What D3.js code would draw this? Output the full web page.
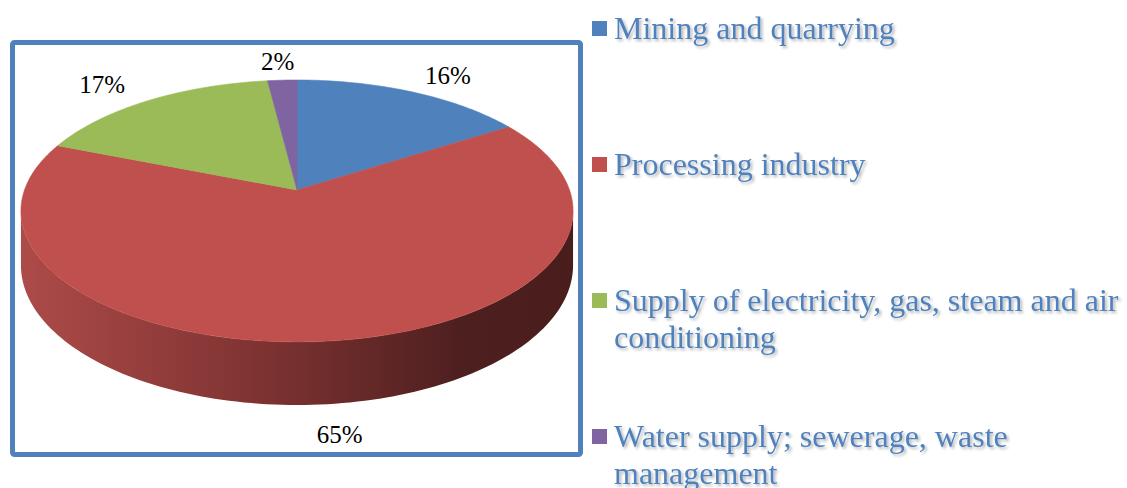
<!DOCTYPE html>
<html>
<head>
<meta charset="utf-8">
<script src="https://cdn.jsdelivr.net/npm/d3@7"></script>
<style>
  html, body { margin: 0; padding: 0; background: #fff; }
  .pct { font-family: "Liberation Serif", "Times New Roman", serif; font-size: 25px; fill: #000; }
  .legend-text { font-family: "Liberation Serif", "Times New Roman", serif; font-size: 32px; fill: #4f81bd; }
</style>
</head>
<body>
<div id="chart"></div>
<script>
// data
var CATEGORIES = ['Mining and quarrying', 'Processing industry',
  'Supply of electricity, gas, steam and air conditioning',
  'Water supply; sewerage, waste management'];
var LEGEND_LINES = [
  ['Mining and quarrying'],
  ['Processing industry'],
  ['Supply of electricity, gas, steam and air', 'conditioning'],
  ['Water supply; sewerage, waste', 'management']
];
var VALUES = [16, 65, 17, 2];
var COLORS = ['#4f81bd', '#c0504d', '#9bbb59', '#8064a2'];

var W = 1127, H = 488;

// pie geometry (3d, with a bit of perspective)
var cx = 297, cy = 190;      // apex of the slices
var R = 272.5, RY = 127.6;   // radius and squashed radius
var PERSP = 0.16;            // far side shrinks, near side grows
var DEPTH = 53;

function proj(theta, k, drop) {
  k = k || 1;
  drop = drop || 0;
  var d = 1 + PERSP * k * Math.cos(theta);
  return [cx + k * R * Math.sin(theta) / d,
          cy - k * RY * Math.cos(theta) / d + drop / d];
}

var svg = d3.select('#chart')
  .append('svg')
    .attr('width', W)
    .attr('height', H);

var defs = svg.append('defs');
var grad = defs.append('linearGradient')
  .attr('id', 'sideGrad')
  .attr('gradientUnits', 'userSpaceOnUse')
  .attr('x1', 20).attr('x2', 573).attr('y1', 0).attr('y2', 0);
grad.append('stop').attr('offset', '0%').attr('stop-color', '#ad4b49');
grad.append('stop').attr('offset', '45%').attr('stop-color', '#7c3231');
grad.append('stop').attr('offset', '80%').attr('stop-color', '#4e1f1f');
grad.append('stop').attr('offset', '100%').attr('stop-color', '#4a1d1d');

var shadow = defs.append('filter').attr('id', 'txtShadow')
  .attr('x', '-5%').attr('y', '-20%').attr('width', '110%').attr('height', '150%');
shadow.append('feGaussianBlur').attr('in', 'SourceAlpha').attr('stdDeviation', 1.4).attr('result', 'b');
shadow.append('feOffset').attr('in', 'b').attr('dx', 1.5).attr('dy', 2).attr('result', 'o');
shadow.append('feComponentTransfer').attr('in', 'o').attr('result', 's')
  .append('feFuncA').attr('type', 'linear').attr('slope', 0.3);
var merge = shadow.append('feMerge');
merge.append('feMergeNode').attr('in', 's');
merge.append('feMergeNode').attr('in', 'SourceGraphic');

// frame
svg.append('rect')
  .attr('x', 12.5).attr('y', 42.5)
  .attr('width', 568).attr('height', 412)
  .attr('rx', 2)
  .attr('fill', 'none')
  .attr('stroke', '#4f81bd')
  .attr('stroke-width', 5);

var pie = d3.pie().sort(null).value(function(d) { return d; });
var arcs = pie(VALUES);

var line = d3.line();

// side wall (only the front is seen, all of it red)
var edge = Math.acos(-PERSP);
var a0 = edge, a1 = 2 * Math.PI - edge;
var steps = d3.range(0, 121).map(function(i) { return a0 + (a1 - a0) * i / 120; });
var sidePts = steps.map(function(t) { return proj(t); })
  .concat(steps.slice().reverse().map(function(t) { return proj(t, 1, DEPTH); }));
svg.append('path')
  .attr('d', line(sidePts) + 'Z')
  .attr('fill', 'url(#sideGrad)');

// top face
svg.append('g').selectAll('path')
  .data(arcs)
  .enter().append('path')
    .attr('d', function(d) {
      var n = Math.max(8, Math.ceil((d.endAngle - d.startAngle) * 60));
      var pts = [[cx, cy]];
      for (var i = 0; i <= n; i++) {
        pts.push(proj(d.startAngle + (d.endAngle - d.startAngle) * i / n));
      }
      return line(pts) + 'Z';
    })
    .attr('fill', function(d, i) { return COLORS[i]; })
    .attr('stroke', function(d, i) { return COLORS[i]; })
    .attr('stroke-width', 0.6);

// percent labels
function labelPos(d) {
  var m = (d.startAngle + d.endAngle) / 2;
  var p = proj(m, 1.2, Math.cos(m) < 0 ? DEPTH * 0.85 : 0);
  return [cx + (p[0] - cx) * 1.12, p[1]];
}

svg.append('g').selectAll('text')
  .data(arcs)
  .enter().append('text')
    .attr('class', 'pct')
    .attr('text-anchor', 'middle')
    .attr('dominant-baseline', 'central')
    .attr('x', function(d) { return labelPos(d)[0]; })
    .attr('y', function(d) { return labelPos(d)[1]; })
    .text(function(d) { return d.data + '%'; });

// legend
var legend = svg.append('g');
var item = legend.selectAll('g')
  .data(LEGEND_LINES)
  .enter().append('g')
    .attr('transform', function(d, i) { return 'translate(0,' + (39 + i * 136) + ')'; });

item.append('rect')
  .attr('x', 592).attr('y', -18)
  .attr('width', 15).attr('height', 15)
  .attr('fill', function(d, i) { return COLORS[i]; });

item.append('text')
  .attr('class', 'legend-text')
  .attr('filter', 'url(#txtShadow)')
  .selectAll('tspan')
  .data(function(d) { return d; })
  .enter().append('tspan')
    .attr('x', 614)
    .attr('y', function(d, j) { return j * 37; })
    .text(function(d) { return d; });
</script>
</body>
</html>
